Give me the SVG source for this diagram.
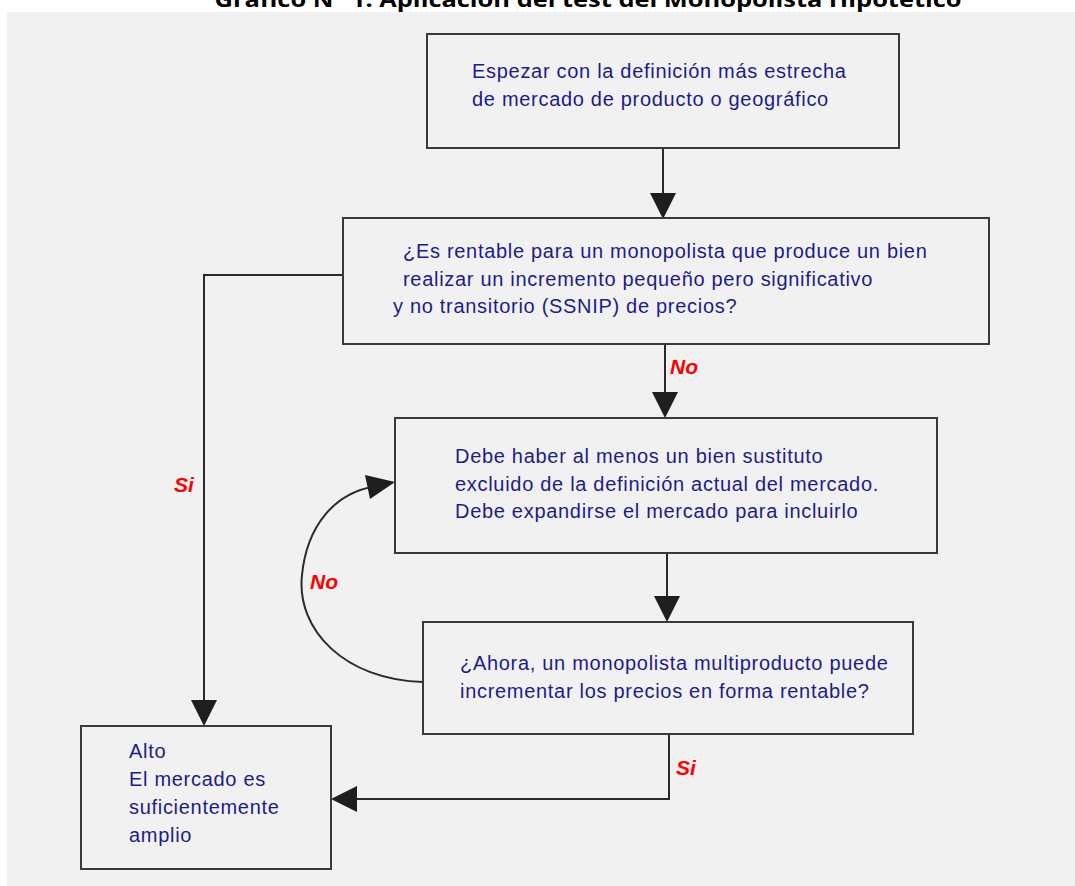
<svg xmlns="http://www.w3.org/2000/svg" width="1075" height="886" viewBox="0 0 1075 886">
<style>
.box{fill:#f1f1f1;stroke:#3a3a3a;stroke-width:2}
.t{font-family:"Liberation Sans",Arial,sans-serif;font-size:20px;letter-spacing:0.7px;fill:#1c1c8c}
.lbl{font-family:"Liberation Sans",Arial,sans-serif;font-size:21px;font-weight:bold;font-style:italic;fill:#ff0000}
.ln{fill:none;stroke:#2a2a2a;stroke-width:2}
.ah{fill:#1e1e1e}
</style>
<rect x="0" y="0" width="1075" height="886" fill="#ffffff"/>
<text x="588" y="7" text-anchor="middle" font-family="'Open Sans','Liberation Sans',sans-serif" font-size="22" font-weight="bold" fill="#000" textLength="747" lengthAdjust="spacingAndGlyphs">Gráfico N° 1: Aplicación del test del Monopolista Hipotético</text>
<rect x="7" y="12" width="1068" height="874" fill="#f1f1f1"/>
<g id="connectors">
<line class="ln" x1="663" y1="148" x2="663" y2="196"/>
<polygon class="ah" points="650,193 676,193 663,219"/>
<line class="ln" x1="665" y1="344" x2="665" y2="394"/>
<polygon class="ah" points="652,392 678,392 665,418"/>
<line class="ln" x1="667" y1="553" x2="667" y2="598"/>
<polygon class="ah" points="654,596 680,596 667,622"/>
<polyline class="ln" points="345,275 204,275 204,702"/>
<polygon class="ah" points="191,700 217,700 204,726"/>
<polyline class="ln" points="669,734 669,799 356,799"/>
<polygon class="ah" points="357,786 357,812 331,799"/>
<path class="ln" d="M423,682 C345,680 296,630 302,575 C307,525 335,494 372,487" stroke-width="1.5"/>
<polygon class="ah" points="365,475 370,499 395,482"/>
<text class="lbl" x="670" y="374">No</text>
<text class="lbl" x="174" y="492">Si</text>
<text class="lbl" x="310" y="589">No</text>
<text class="lbl" x="676" y="775">Si</text>
</g>
<g id="n1">
<rect class="box" x="427" y="34" width="472" height="114"/>
<text class="t" x="472" y="78">Espezar con la definición más estrecha</text>
<text class="t" x="472" y="106">de mercado de producto o geográfico</text>
</g>
<g id="n2">
<rect class="box" x="343" y="218" width="646" height="126"/>
<text class="t" x="403" y="258">¿Es rentable para un monopolista que produce un bien</text>
<text class="t" x="403" y="286">realizar un incremento pequeño pero significativo</text>
<text class="t" x="393" y="313">y no transitorio (SSNIP) de precios?</text>
</g>
<g id="n3">
<rect class="box" x="395" y="418" width="542" height="135"/>
<text class="t" x="455" y="463">Debe haber al menos un bien sustituto</text>
<text class="t" x="455" y="491">excluido de la definición actual del mercado.</text>
<text class="t" x="455" y="518">Debe expandirse el mercado para incluirlo</text>
</g>
<g id="n4">
<rect class="box" x="423" y="622" width="490" height="112"/>
<text class="t" x="460" y="670">¿Ahora, un monopolista multiproducto puede</text>
<text class="t" x="460" y="698">incrementar los precios en forma rentable?</text>
</g>
<g id="n5">
<rect class="box" x="81" y="726" width="250" height="143"/>
<text class="t" x="129" y="758">Alto</text>
<text class="t" x="129" y="786">El mercado es</text>
<text class="t" x="129" y="814">suficientemente</text>
<text class="t" x="129" y="842">amplio</text>
</g>
</svg>
